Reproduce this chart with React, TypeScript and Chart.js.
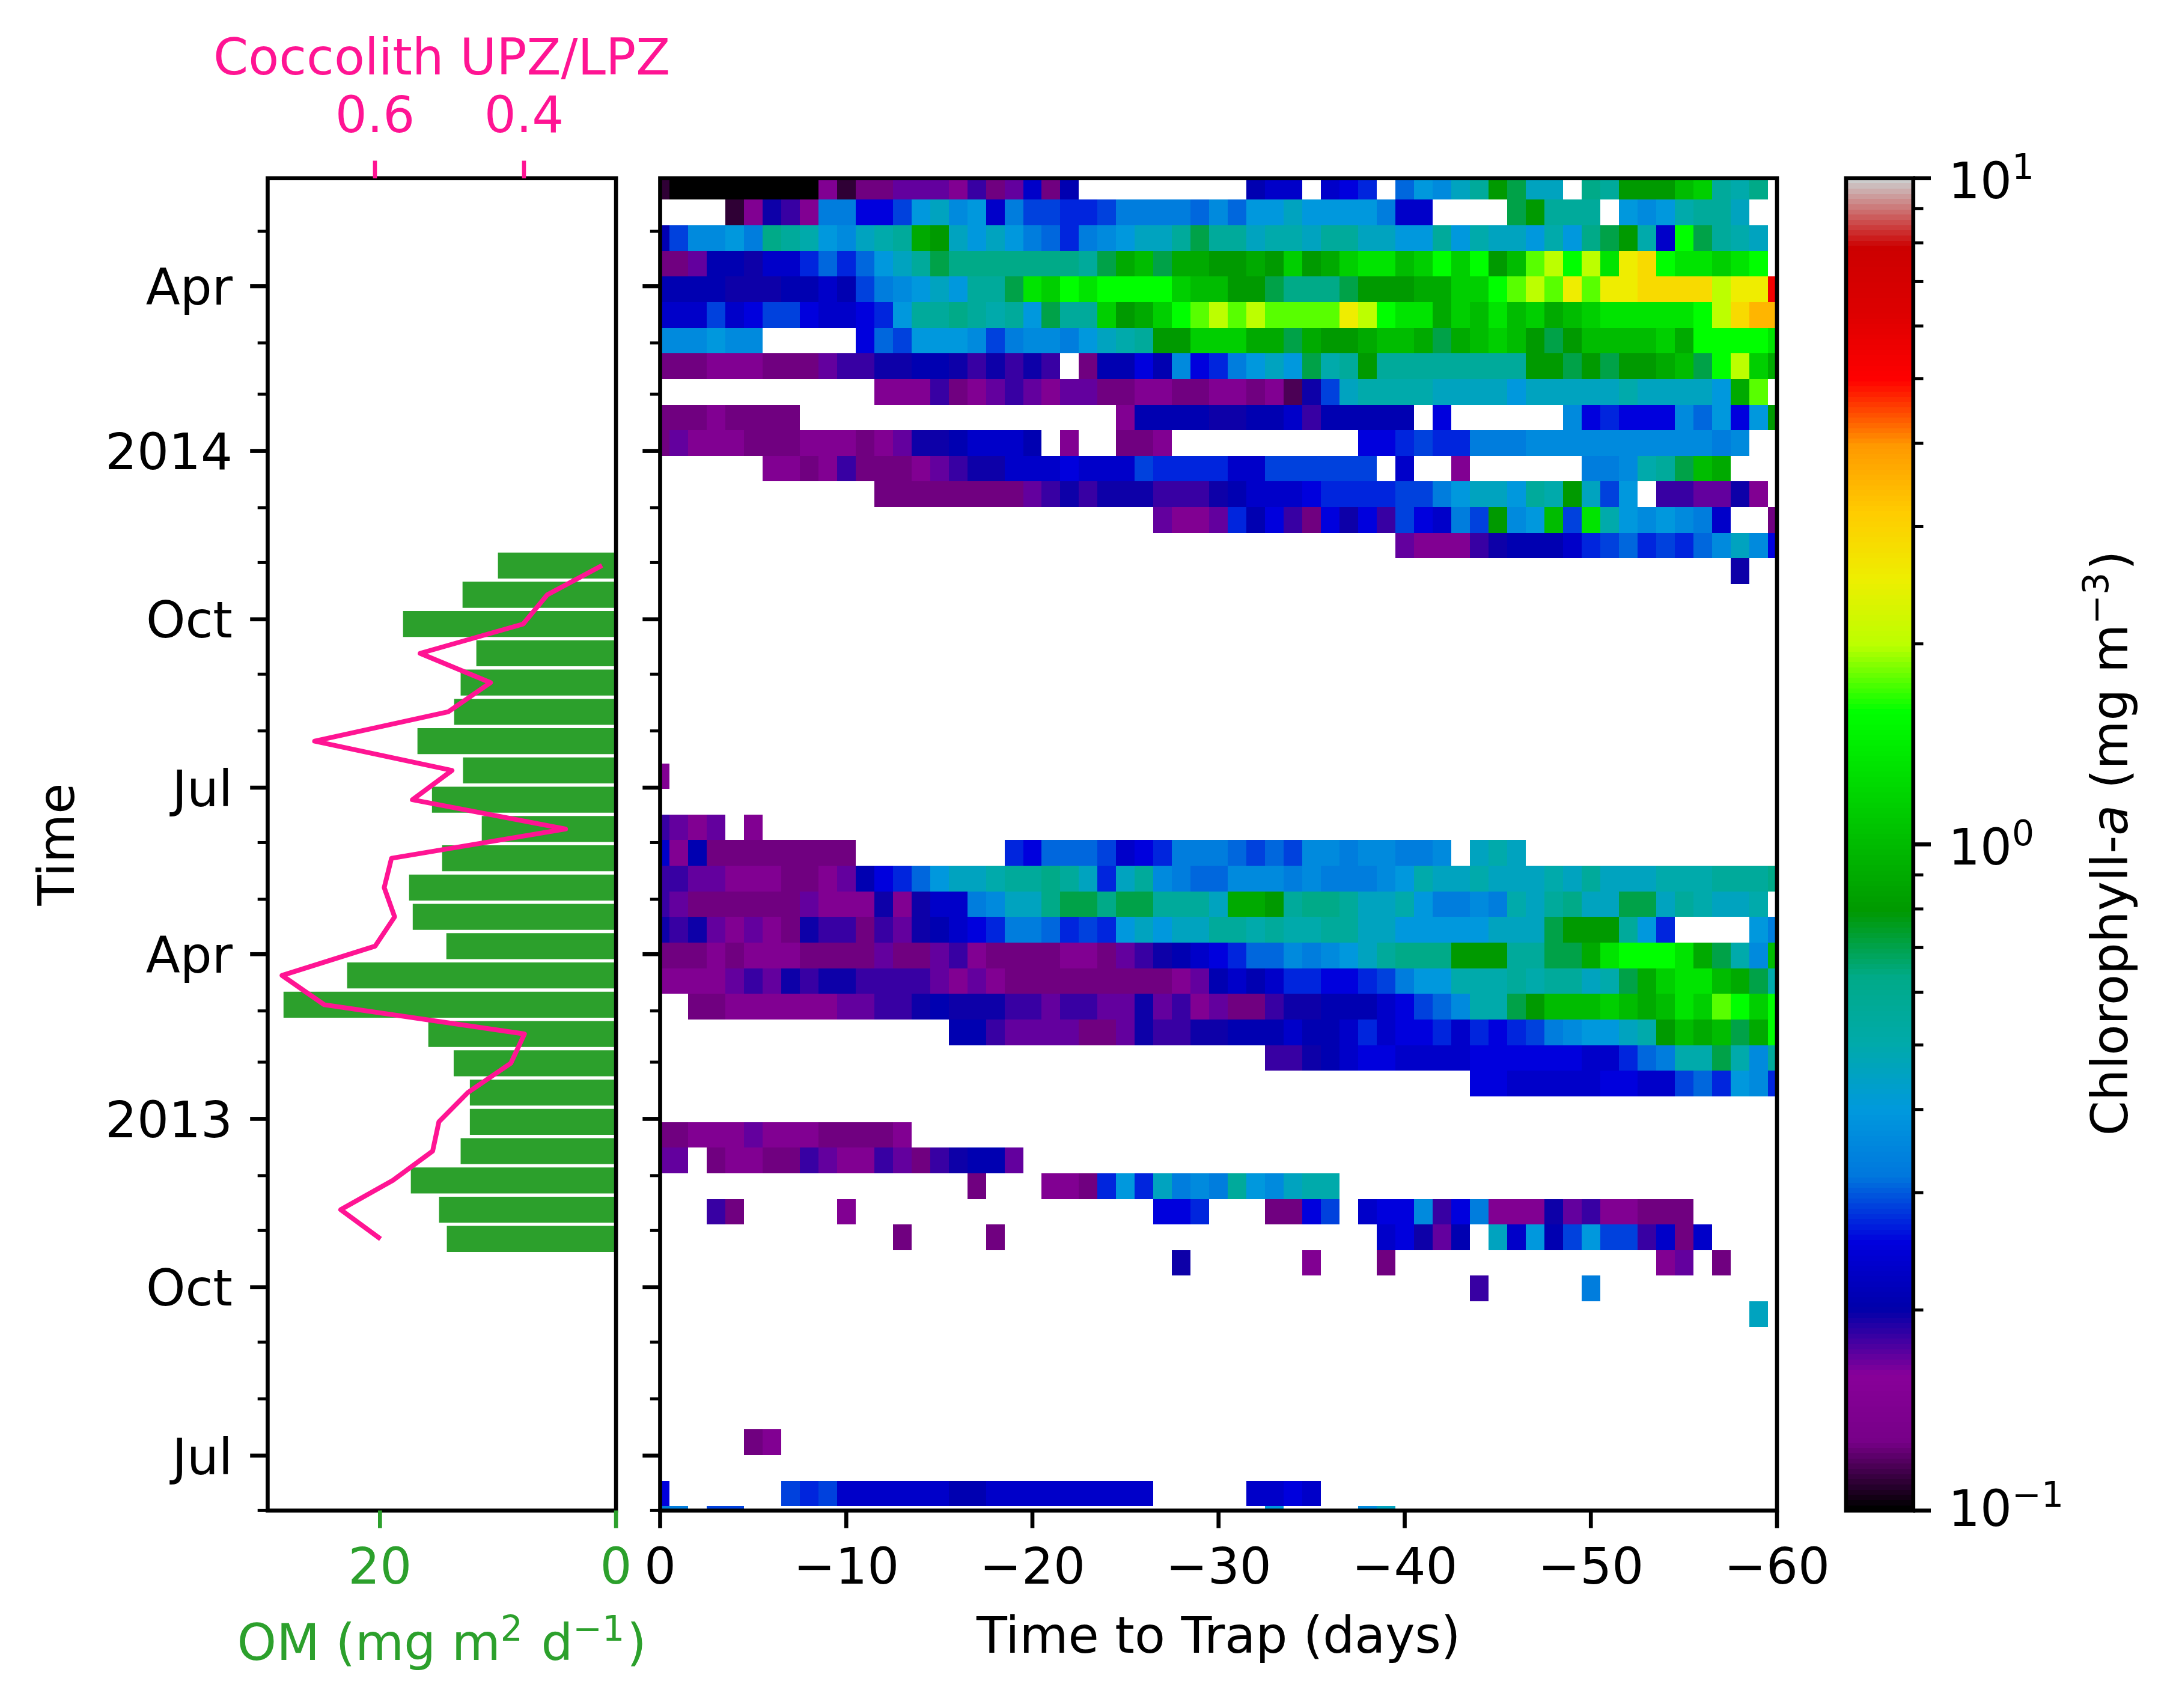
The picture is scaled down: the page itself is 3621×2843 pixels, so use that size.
import React, { useEffect, useRef } from 'react';
import { Chart, registerables } from 'chart.js';

Chart.register(...registerables);

const FIG_W = 3621;
const FIG_H = 2843;
const FONT = '"DejaVu Sans"';
const FS = 83.33;
const SPINE = 6.67;
const MAJOR = 29.2;
const MINOR = 16.7;
const TOP = 296.7;
const BOTTOM = 2514.3;

const PINK = '#ff1493';
const GREEN = '#2ca02c';

// time axis, dates
const timeStart = '2012-06-01';
const timeSpanDays = 728;
const majorDates = ['2012-07-01', '2012-10-01', '2013-01-01', '2013-04-01', '2013-07-01', '2013-10-01', '2014-01-01', '2014-04-01'];
const majorLabels = ['Jul', 'Oct', '2013', 'Apr', 'Jul', 'Oct', '2014', 'Apr'];
const minorDates = ['2012-06-01', '2012-08-01', '2012-09-01', '2012-11-01', '2012-12-01', '2013-02-01', '2013-03-01', '2013-05-01', '2013-06-01', '2013-08-01', '2013-09-01', '2013-11-01', '2013-12-01', '2014-02-01', '2014-03-01', '2014-05-01'];

const dayOf = (d: string) => (Date.parse(d) - Date.parse(timeStart)) / 864e5;
const majorDays = majorDates.map(dayOf);
const minorDays = minorDates.map(dayOf);

// left panel, days since timeStart, earliest first
const trapDays = [148.4, 164.4, 180.4, 196.4, 212.4, 228.4, 244.4, 260.4, 276.4, 292.4, 308.4, 324.4, 340.4, 356.4, 372.4, 388.4, 404.4, 420.4, 436.4, 452.4, 468.4, 484.4, 500.4, 516.4];
const omFlux = [14.32, 14.98, 17.37, 13.15, 12.37, 12.37, 13.74, 15.89, 28.16, 22.77, 14.36, 17.21, 17.52, 14.72, 11.36, 15.58, 12.95, 16.81, 13.7, 13.15, 11.82, 18.03, 12.99, 9.99];
const coccolithRatio = [0.5925, 0.646, 0.576, 0.5226, 0.5142, 0.4753, 0.4177, 0.3994, 0.6681, 0.7247, 0.5998, 0.5736, 0.5876, 0.5778, 0.3442, 0.5498, 0.4967, 0.681, 0.5019, 0.4449, 0.5394, 0.4012, 0.3687, 0.2952];

// heat map: one letter per cell, see chlCodes/chlValues for mg m-3
const chlCodes = 'KaDPpqrsbcdefghijlmnoOStuvwWxyzABC';
const chlValues = [0.1, 0.11, 0.117, 0.126, 0.145, 0.17, 0.182, 0.195, 0.209, 0.229, 0.251, 0.269, 0.288, 0.309, 0.331, 0.363, 0.398, 0.457, 0.501, 0.562, 0.631, 0.708, 0.794, 0.891, 1.0, 1.148, 1.318, 1.585, 1.778, 1.995, 2.512, 2.884, 3.467, 5.495];
const rowStepDays = 14;
const lastRowCenter = -4.7;

// top row first, columns 0 to 60 days before the trap, groups of ten
const chlRows = [
  'aKKKKKKKKp aPPqqqprPq cPb....... ..bcc.cde. gjilnSOll. onSSSuvnmo .',
  '....apsrph hddfjlijch ffeefhhhhg igjjljjjjh cc....OSnn n.jijmnnl. .',
  'bfiijhonmj ilmntSljlj hgehijllnO nnlmmlnnll jjnjmlljmj oOSmcWOnml .',
  'PPqbbscceg egjlnOoooo ooonOtuOtt SStSvStvww uvWvWSuxyW ywzAWwwvwW .',
  'bbbbsssbbc bfhijljnnO wvWwWWWWvu uSSOoooOSS SttvvWxyxz xzzAAAAyzz C',
  'cccfcdffdc cdejnnonmn jOnnvStvWx yxyxxxxzyW wwtvuwuvtu vwwwwwWyAB B',
  'iiijii.... .dgfjjjifh iihjlmnSSv vvttOtSStu utOtuvuSOS uuuuvtWWWW w',
  'PPPpppPPPq rrssbbsrsr sr.Pbbdbid ehjljOmnSn nnnnnnnSSO SOSStuOWyv t',
  '.......... ..ppprPpqr qpqqPPppPP ppPpDsflmm mmlllljlll llmlllljtx .',
  'PPPpPPPP.. .......... .....pbbbb ssbbcrbbbb b.d......i dedddigjdj S',
  'PqpppPPPpp pPpqssbccc b.p..PPp.. ........dd efeehhhiii iiiiiiihi. .',
  '......ppPp rPPPpqrssc ccdcccfeee eccffffff. c..p...... hhimnOut.. .',
  '.......... ..PPPPPPPP qrsrsssrrr sbcccdeeee ffhjlljnmS lfj.rrqqsp .',
  '.......... .......... .......qpp qebdrPdsdr fdchfSijuf wmjijihc.. P',
  '.......... .......... .......... .......... qppprsbbbc efgefegili d',
  '.......... .......... .......... .......... .......... ........s',
  '', '', '', '', '', '', '',
  'p',
  '',
  'rqpq.p',
  'cpbPPPPPPP P........e dgggfcdehh hgfgfiihii hhi.lml',
  'rrqqpppPPp qbdegjllmn nonlelnihg giiihihhhi jmllmlllml nlllmmmnnn o',
  'rqPPPPPPqp ppspscchil loOOoOOnnn lttSnoonll mjhhihmlno llOOlnmllm',
  'srsqpqpPsr rPrqsbcdeh hgefejljll nnmnmmnnll jjjjjlllOS SSnje....j h',
  'PPPpPpppPP PPqPPqrpPP PPppPqrsbc deggihijln oooSSSnnOO twWWWwtOmi u',
  'ppppqrqsrs srrrrqpqpP PPPPPPPPpq bcbceeddef hjjmmmnmnn lmOtvwwutO m',
  '..PPpppppp qqrrsbsssr rqrrqqsqrp qPPrssbbbc dfgimmOSuu uvutuwvxWv W',
  '.......... ......bbrq qqqPPqsrrs sbbbcbbcec ddecedefhi jjlmSutuOt W',
  '.......... .......... .......... ...rrsbcdd ccccdddddd cceghmmOmi n',
  '.......... .......... .......... .......... ....ddcccc cddccfgeji e',
  '',
  'PPpppqpppP PPPp',
  'qq.PppPPrq pprqPrsbbq',
  '.......... .......P.. .ppPejelhi hnjilmm',
  '...rP..... p......... .......dde ...PPdf.cd dirdhpppsq rppPPP',
  '.......... ...P....P. .......... .........c dsqb.lcjbf jffrcPc',
  '.......... .......... ........s. .....p...P .......... ....pq.P',
  '.......... .......... .......... .......... ....r..... h',
  '.......... .......... .......... .......... .......... .........l',
  '', '', '', '',
  '.....Pp',
  '',
  'd......fef ccccccbbcc ccccccc... ..ccdc',
  'hh.ff..... .......... .......... ...j....il',
];

// nipy_spectral anchors, every 0.05 of the colour range
const spectral = [
  [0, 0, 0], [0.4667, 0, 0.5333], [0.5333, 0, 0.6], [0, 0, 0.6667], [0, 0, 0.8667], [0, 0.4667, 0.8667], [0, 0.6, 0.8667],
  [0, 0.6667, 0.6667], [0, 0.6667, 0.5333], [0, 0.6, 0], [0, 0.7333, 0], [0, 0.8667, 0], [0, 1, 0], [0.7333, 1, 0],
  [0.9333, 0.9333, 0], [1, 0.8, 0], [1, 0.6, 0], [1, 0, 0], [0.8667, 0, 0], [0.8, 0, 0], [0.8, 0.8, 0.8],
];
const colorAt = (t: number) => {
  const q = Math.min(255, Math.max(0, Math.floor(t * 256))) / 255;
  const f = q * 20;
  const i = Math.min(19, Math.floor(f));
  const c = spectral[i].map((a, n) => a + (spectral[i + 1][n] - a) * (f - i));
  return `rgb(${c.map((v) => Math.round(v * 255)).join(',')})`;
};
const chlColor = (v: number) => colorAt((Math.log10(v) + 1) / 2);

const heatCells: { x: number; y: number; v: number }[] = [];
chlRows.forEach((row, r) => {
  const cols = row.replace(/ /g, '');
  for (let k = 0; k < cols.length; k++) {
    const n = chlCodes.indexOf(cols[k]);
    if (n >= 0) heatCells.push({ x: -k, y: lastRowCenter + rowStepDays * (chlRows.length - 1 - r), v: chlValues[n] });
  }
});

const cbarSteps = Array.from({ length: 256 }, (_, i) => i);
const cbarMajor = [0.1, 1, 10];
const cbarExp = ['\u22121', '0', '1'];
const cbarMinor = [0.2, 0.3, 0.4, 0.5, 0.6, 0.7, 0.8, 0.9, 2, 3, 4, 5, 6, 7, 8, 9];

type Part = { t: string; sup?: boolean; it?: boolean };
// mixed text on one baseline, for the labels with superscripts
const partFont = (p: Part) => `${p.it ? 'italic ' : ''}${p.sup ? FS * 0.7 : FS}px ${FONT}`;
function drawRich(ctx: CanvasRenderingContext2D, parts: Part[], x: number, y: number, color: string, rotated = false, align = 'center') {
  ctx.save();
  ctx.translate(x, y);
  if (rotated) ctx.rotate(-Math.PI / 2);
  ctx.fillStyle = color;
  ctx.textAlign = 'left';
  ctx.textBaseline = 'alphabetic';
  const widths = parts.map((p) => {
    ctx.font = partFont(p);
    return ctx.measureText(p.t).width + (p.sup ? 4 : 0);
  });
  let px = align === 'center' ? -widths.reduce((a, b) => a + b, 0) / 2 : 0;
  parts.forEach((p, i) => {
    ctx.font = partFont(p);
    ctx.fillText(p.t, px, p.sup ? -32 : 0);
    px += widths[i];
  });
  ctx.restore();
}

function frame(chart: any) {
  const { ctx, chartArea: a } = chart;
  ctx.save();
  ctx.strokeStyle = '#000';
  ctx.lineWidth = SPINE;
  ctx.strokeRect(a.left, a.top, a.right - a.left, a.bottom - a.top);
  ctx.restore();
}

// matplotlib style tick marks, Chart.js has no per tick length
function vTicks(chart: any, scale: any, values: number[], len: number, w: number, side: number) {
  const { ctx, chartArea: a } = chart;
  const x0 = side < 0 ? a.left : a.right;
  ctx.save();
  ctx.strokeStyle = '#000';
  ctx.lineWidth = w;
  values.forEach((v) => {
    const y = scale.getPixelForValue(v);
    ctx.beginPath();
    ctx.moveTo(x0, y);
    ctx.lineTo(x0 + side * len, y);
    ctx.stroke();
  });
  ctx.restore();
}
function hTicks(chart: any, scale: any, values: number[], color: string, side: number) {
  const { ctx, chartArea: a } = chart;
  const y0 = side < 0 ? a.top : a.bottom;
  ctx.save();
  ctx.strokeStyle = color;
  ctx.lineWidth = SPINE;
  values.forEach((v) => {
    const x = scale.getPixelForValue(v);
    ctx.beginPath();
    ctx.moveTo(x, y0);
    ctx.lineTo(x, y0 + side * MAJOR);
    ctx.stroke();
  });
  ctx.restore();
}

// fixes an axis box to an exact size so the plot area lands where it should
const fixWidth = (w: number) => (s: any) => {
  s.width = w;
  s.paddingLeft = s.paddingRight = s.paddingTop = s.paddingBottom = 0;
};
const fixHeight = (h: number) => (s: any) => {
  s.height = h;
  s.paddingLeft = s.paddingRight = s.paddingTop = s.paddingBottom = 0;
};
const setTicks = (vals: number[]) => (s: any) => {
  s.ticks = vals.map((value) => ({ value }));
};
const noLines = { grid: { display: false, drawTicks: false }, border: { display: false } };
const labelFont = { family: FONT, size: FS };
const baseOpts = { responsive: false, animation: false as const, devicePixelRatio: 1 };
const noPlugins = { legend: { display: false }, tooltip: { enabled: false } };
const minus = (v: number) => (v === 0 ? '0' : '\u2212' + Math.abs(v));

const omTicks = [0, 20];
const ratioTicks = [0.6, 0.4];
const lagTicks = [0, -10, -20, -30, -40, -50, -60];

const App: React.FC = () => {
  const leftRef = useRef<HTMLCanvasElement>(null);
  const heatRef = useRef<HTMLCanvasElement>(null);
  const cbarRef = useRef<HTMLCanvasElement>(null);

  useEffect(() => {
    if (!leftRef.current || !heatRef.current || !cbarRef.current) return;

    const left = new Chart(leftRef.current, {
      type: 'bar',
      data: {
        datasets: [
          {
            type: 'line',
            data: trapDays.map((d, i) => ({ x: coccolithRatio[i], y: d })),
            xAxisID: 'xTop',
            yAxisID: 'y',
            indexAxis: 'y',
            borderColor: PINK,
            borderWidth: 8,
            pointRadius: 0,
            tension: 0,
            borderJoinStyle: 'round',
            order: 0,
          } as any,
          {
            type: 'bar',
            data: trapDays.map((d, i) => ({ x: omFlux[i], y: d })),
            xAxisID: 'x',
            yAxisID: 'y',
            backgroundColor: GREEN,
            barThickness: 42.6,
            order: 1,
          } as any,
        ],
      },
      options: {
        ...baseOpts,
        indexAxis: 'y',
        layout: { padding: { right: FIG_W - 1025.1 } },
        plugins: noPlugins,
        scales: {
          y: {
            type: 'linear', position: 'left', min: 0, max: timeSpanDays, offset: false, ...noLines,
            afterBuildTicks: setTicks(majorDays),
            afterFit: fixWidth(445.4),
            ticks: {
              autoSkip: false, maxRotation: 0, minRotation: 0, padding: MAJOR * 2, labelOffset: 9, color: '#000', font: labelFont,
              callback: (v: any) => majorLabels[majorDays.indexOf(v)],
            },
          },
          x: {
            type: 'linear', position: 'bottom', min: 0, max: 29.52, reverse: true, offset: false, ...noLines,
            afterBuildTicks: setTicks(omTicks),
            afterFit: fixHeight(FIG_H - BOTTOM),
            ticks: { autoSkip: false, maxRotation: 0, padding: 50, color: GREEN, font: labelFont, callback: (v: any) => String(v) },
          },
          xTop: {
            type: 'linear', axis: 'x', position: 'top', min: 0.2765, max: 0.744, reverse: true, offset: false, ...noLines,
            afterBuildTicks: setTicks(ratioTicks),
            afterFit: fixHeight(TOP),
            ticks: { autoSkip: false, maxRotation: 0, padding: 48, color: PINK, font: labelFont, callback: (v: any) => Number(v).toFixed(1) },
          },
        } as any,
      },
      plugins: [
        {
          id: 'leftDecor',
          afterDraw(chart: any) {
            frame(chart);
            vTicks(chart, chart.scales.y, majorDays, MAJOR, SPINE, -1);
            vTicks(chart, chart.scales.y, minorDays, MINOR, 5, -1);
            hTicks(chart, chart.scales.x, omTicks, GREEN, 1);
            hTicks(chart, chart.scales.xTop, ratioTicks, PINK, -1);
            drawRich(chart.ctx, [{ t: 'Coccolith UPZ/LPZ' }], 735.2, 124, PINK);
            drawRich(chart.ctx, [{ t: 'OM (mg m' }, { t: '2', sup: true }, { t: ' d' }, { t: '\u22121', sup: true }, { t: ')' }], 735.2, 2763, GREEN);
            drawRich(chart.ctx, [{ t: 'Time' }], 123, 1405.5, '#000', true);
          },
        },
      ],
    });

    const heat = new Chart(heatRef.current, {
      type: 'scatter',
      data: { datasets: [{ data: heatCells, pointRadius: 0 } as any] },
      options: {
        ...baseOpts,
        layout: { padding: { right: FIG_W - 2957 } },
        plugins: noPlugins,
        scales: {
          y: {
            type: 'linear', position: 'left', min: 0, max: timeSpanDays, ...noLines,
            afterBuildTicks: setTicks(majorDays),
            afterFit: fixWidth(1098.5),
            ticks: { display: false },
          },
          x: {
            type: 'linear', position: 'bottom', min: -60, max: 0, reverse: true, ...noLines,
            afterBuildTicks: setTicks(lagTicks),
            afterFit: fixHeight(FIG_H - BOTTOM),
            ticks: { autoSkip: false, maxRotation: 0, padding: 50, color: '#000', font: labelFont, callback: (v: any) => minus(Number(v)) },
          },
          xGap: { type: 'linear', axis: 'x', position: 'top', display: true, min: 0, max: 1, ...noLines, ticks: { display: false }, afterFit: fixHeight(TOP) },
        } as any,
      },
      plugins: [
        {
          id: 'cells',
          beforeDatasetsDraw(chart: any) {
            const { ctx, chartArea: a, scales } = chart;
            ctx.save();
            ctx.beginPath();
            ctx.rect(a.left, a.top, a.right - a.left, a.bottom - a.top);
            ctx.clip();
            heatCells.forEach((c) => {
              const x0 = Math.round(scales.x.getPixelForValue(c.x + 0.5));
              const x1 = Math.round(scales.x.getPixelForValue(c.x - 0.5));
              const y0 = Math.round(scales.y.getPixelForValue(c.y + rowStepDays / 2));
              const y1 = Math.round(scales.y.getPixelForValue(c.y - rowStepDays / 2));
              ctx.fillStyle = chlColor(c.v);
              ctx.fillRect(x0, y0, x1 - x0, y1 - y0);
            });
            ctx.restore();
          },
          afterDraw(chart: any) {
            frame(chart);
            vTicks(chart, chart.scales.y, majorDays, MAJOR, SPINE, -1);
            vTicks(chart, chart.scales.y, minorDays, MINOR, 5, -1);
            hTicks(chart, chart.scales.x, lagTicks, '#000', 1);
            drawRich(chart.ctx, [{ t: 'Time to Trap (days)' }], 2027.7, 2751, '#000');
          },
        },
      ],
    });

    const cbar = new Chart(cbarRef.current, {
      type: 'scatter',
      data: { datasets: [{ data: cbarSteps.map((i) => ({ x: 0, y: Math.pow(10, i / 128 - 1) })), pointRadius: 0 } as any] },
      options: {
        ...baseOpts,
        layout: { padding: { left: 3072, top: TOP, bottom: FIG_H - BOTTOM } },
        plugins: noPlugins,
        scales: {
          x: { type: 'linear', display: false, min: 0, max: 1 },
          y: {
            type: 'logarithmic', position: 'right', min: 0.1, max: 10, ...noLines,
            afterBuildTicks: setTicks(cbarMajor),
            afterFit: fixWidth(FIG_W - 3183.8),
            ticks: { display: false },
          },
        } as any,
      },
      plugins: [
        {
          id: 'cbarDecor',
          beforeDatasetsDraw(chart: any) {
            const { ctx, chartArea: a, scales } = chart;
            cbarSteps.forEach((i) => {
              const y0 = Math.round(scales.y.getPixelForValue(Math.pow(10, (i + 1) / 128 - 1)));
              const y1 = Math.round(scales.y.getPixelForValue(Math.pow(10, i / 128 - 1)));
              ctx.fillStyle = colorAt((i + 0.5) / 256);
              ctx.fillRect(a.left, y0, a.right - a.left, y1 - y0);
            });
          },
          afterDraw(chart: any) {
            const { ctx, scales } = chart;
            frame(chart);
            vTicks(chart, scales.y, cbarMajor, MAJOR, SPINE, 1);
            vTicks(chart, scales.y, cbarMinor, MINOR, 5, 1);
            cbarMajor.forEach((v, i) => {
              const y = scales.y.getPixelForValue(v);
              drawRich(ctx, [{ t: '10' }, { t: cbarExp[i], sup: true }], 3242, y + (v === 0.1 ? 26 : 33), '#000', false, 'left');
            });
            drawRich(ctx, [{ t: 'Chlorophyll-' }, { t: 'a', it: true }, { t: ' (mg m' }, { t: '\u22123', sup: true }, { t: ')' }], 3540, 1403.5, '#000', true);
          },
        },
      ],
    });

    return () => {
      left.destroy();
      heat.destroy();
      cbar.destroy();
    };
  }, []);

  const style: React.CSSProperties = { position: 'absolute', left: 0, top: 0 };
  return (
    <div style={{ position: 'absolute', left: 0, top: 0, width: FIG_W, height: FIG_H, background: '#fff', overflow: 'hidden' }}>
      <canvas ref={leftRef} width={FIG_W} height={FIG_H} style={style} />
      <canvas ref={heatRef} width={FIG_W} height={FIG_H} style={style} />
      <canvas ref={cbarRef} width={FIG_W} height={FIG_H} style={style} />
    </div>
  );
};

export default App;
